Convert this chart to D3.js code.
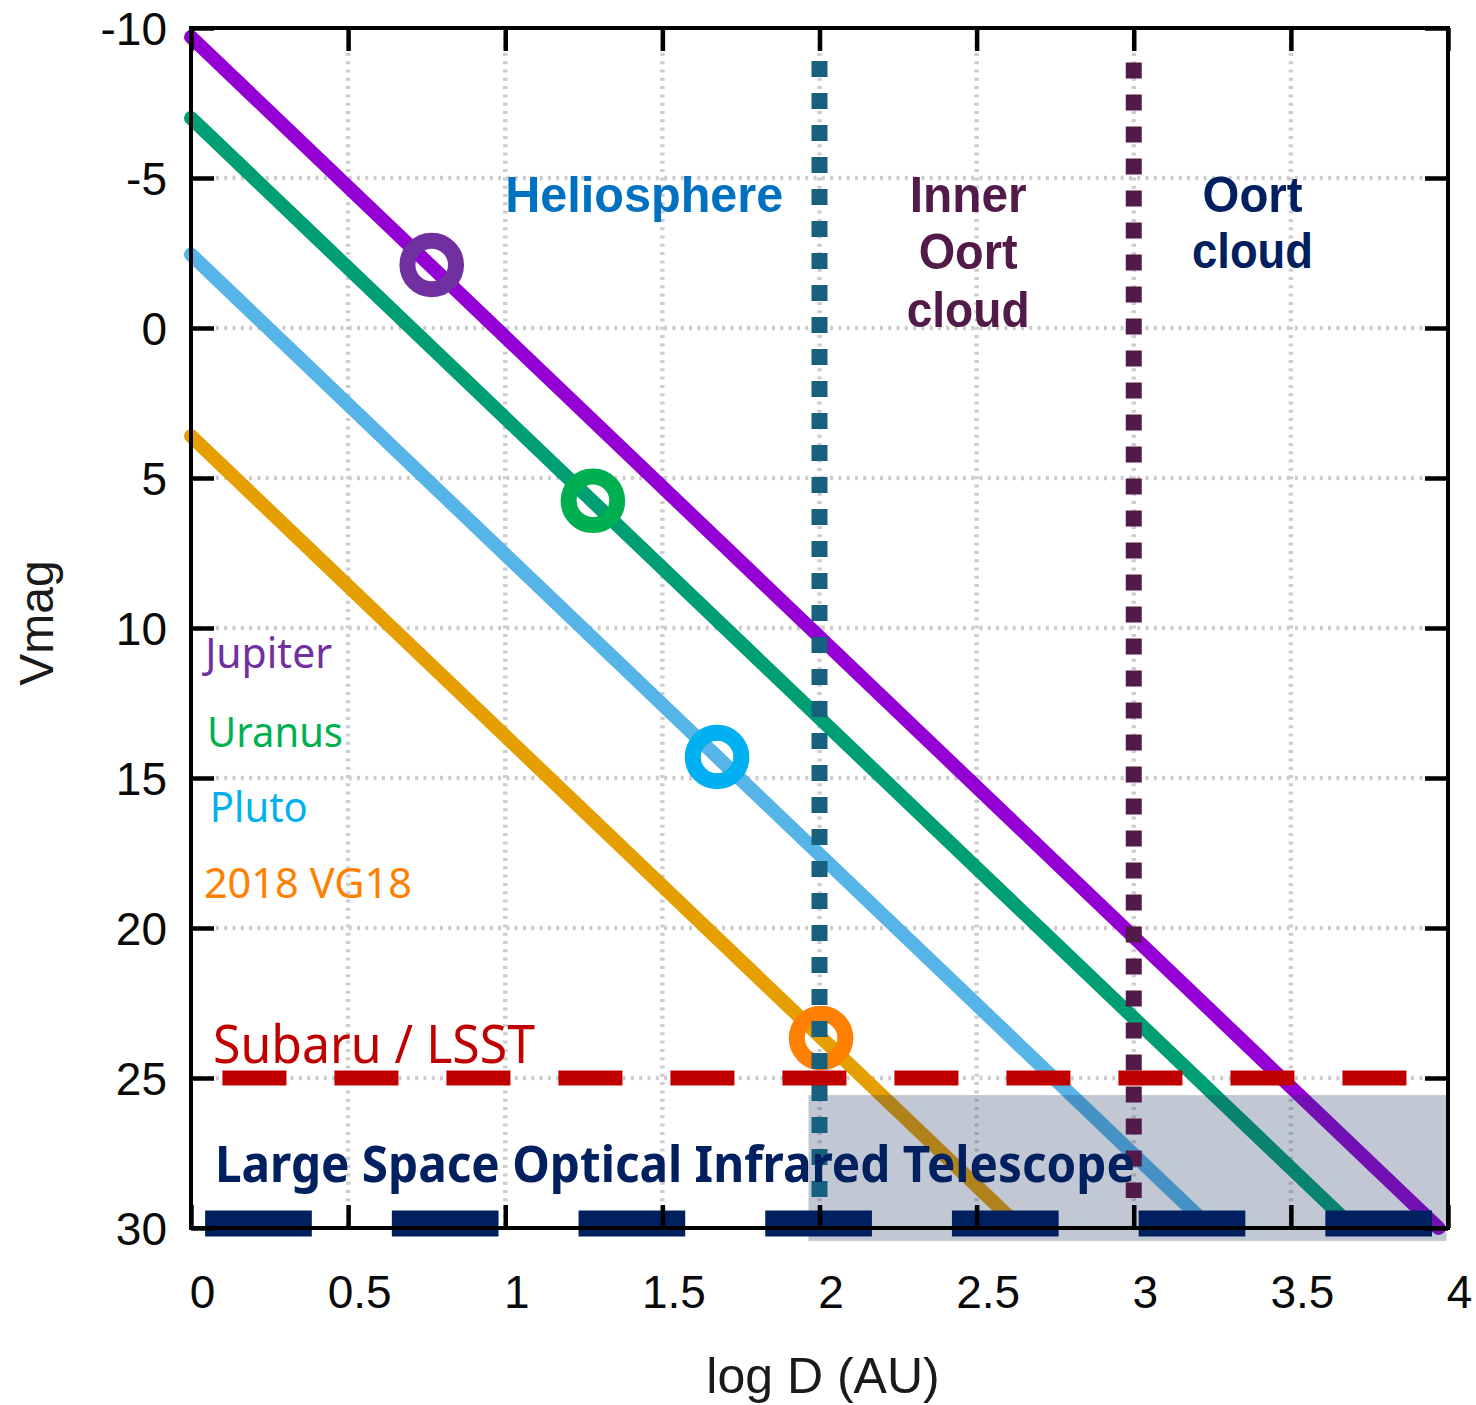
<!DOCTYPE html>
<html><head><meta charset="utf-8">
<script src="https://cdn.jsdelivr.net/npm/d3@7/dist/d3.min.js"></script>
<style>body{margin:0;background:#fff}svg{display:block}</style>
</head><body><svg id="chart" width="1476" height="1405"></svg>
<script>
// ---------- data ----------
const xTickValues = [0, 0.5, 1, 1.5, 2, 2.5, 3, 3.5, 4];
const yTickValues = [-10, -5, 0, 5, 10, 15, 20, 25, 30];
const objectNames = ["Jupiter", "Uranus", "Pluto", "2018 VG18"];
const lineStartLogD = [0, 0, 0, 0];
const lineStartVmag = [-9.7, -7.0, -2.45, 3.6];
const lineEndLogD = [3.97, 3.70, 3.245, 2.64];
const lineEndVmag = [30, 30, 30, 30];
const markerLogD = [0.766, 1.279, 1.674, 2.005];
const markerVmag = [-2.1, 5.76, 14.3, 23.67];
const regionNames = ["Heliosphere", "Inner Oort cloud", "Oort cloud"];
const boundaryLogD = [2, 3];
const boundaryTopVmag = [-8.9, -8.85];
const boundaryBottomVmag = [28.97, 29.0];
const limitNames = ["Subaru / LSST", "Large Space Optical Infrared Telescope"];
const limitVmag = [25, 29.85];
const limitStartLogD = [0.1, 0.045];
const limitEndLogD = [4.0, 3.96];
const shadedLogD = [1.965, 3.995];
const shadedVmag = [25.57, 30.43];

// ---------- styles ----------
const lineColors = ["#9400D3", "#009E73", "#56B4E9", "#E69F00"];
const markerColors = ["#7030A0", "#00B050", "#00B0F0", "#FF8000"];
const labelColors = ["#7030A0", "#00B050", "#00B0F0", "#FF7F00"];
const boundaryColors = ["#17607F", "#521A48"];
const limitColors = ["#C00000", "#002060"];
const limitWidths = [15, 26];
const limitDash = ["64,48", "106.7,80"];

const svg = d3.select("#chart");
const x = d3.scaleLinear().domain([0, 4]).range([191, 1448]);
const y = d3.scaleLinear().domain([-10, 30]).range([28, 1228]);
const [X0, X1] = x.range(), [Y0, Y1] = y.range();

// grid
const grid = svg.append("g").attr("stroke", "#cdcdcd").attr("stroke-width", 4.5).attr("stroke-dasharray", "3,5.3");
grid.selectAll(".gx").data(xTickValues.slice(1, -1)).join("line")
  .attr("x1", d => x(d)).attr("x2", d => x(d)).attr("y1", Y0).attr("y2", Y1);
grid.selectAll(".gy").data(yTickValues.slice(1, -1)).join("line")
  .attr("x1", X0).attr("x2", X1).attr("y1", d => y(d)).attr("y2", d => y(d));

// object lines
const lineGen = d3.line().x(d => x(d[0])).y(d => y(d[1]));
svg.append("g").selectAll("path").data(objectNames).join("path")
  .attr("d", (d, i) => lineGen([[lineStartLogD[i], lineStartVmag[i]], [lineEndLogD[i], lineEndVmag[i]]]))
  .attr("fill", "none").attr("stroke", (d, i) => lineColors[i])
  .attr("stroke-width", 14).attr("stroke-linecap", "round");

// shaded region
svg.append("rect")
  .attr("x", x(shadedLogD[0])).attr("y", y(shadedVmag[0]))
  .attr("width", x(shadedLogD[1]) - x(shadedLogD[0]))
  .attr("height", y(shadedVmag[1]) - y(shadedVmag[0]))
  .attr("fill", "#1F3864").attr("fill-opacity", 0.28);

// markers
svg.append("g").selectAll("circle").data(objectNames).join("circle")
  .attr("cx", (d, i) => x(markerLogD[i])).attr("cy", (d, i) => y(markerVmag[i]))
  .attr("r", 24.3).attr("fill", "none")
  .attr("stroke", (d, i) => markerColors[i]).attr("stroke-width", 16);

// region boundaries
svg.append("g").selectAll("line").data(boundaryLogD).join("line")
  .attr("x1", d => x(d)).attr("x2", d => x(d))
  .attr("y1", (d, i) => y(boundaryTopVmag[i])).attr("y2", (d, i) => y(boundaryBottomVmag[i]))
  .attr("stroke", (d, i) => boundaryColors[i]).attr("stroke-width", 16)
  .attr("stroke-dasharray", "16,16");

// detection limits
svg.append("g").selectAll("line").data(limitVmag).join("line")
  .attr("x1", (d, i) => x(limitStartLogD[i])).attr("x2", (d, i) => x(limitEndLogD[i]))
  .attr("y1", d => y(d)).attr("y2", d => y(d))
  .attr("stroke", (d, i) => limitColors[i]).attr("stroke-width", (d, i) => limitWidths[i])
  .attr("stroke-dasharray", (d, i) => limitDash[i]);

// axes (inward ticks on all sides)
const tickLen = 23;
const fmt = d => String(d);
const styleAxis = g => {
  g.select(".domain").remove();
  g.selectAll(".tick line").attr("stroke", "#000").attr("stroke-width", 4.5);
  g.selectAll("text").attr("font-family", "Liberation Sans, Arial, sans-serif")
    .attr("font-size", 46).attr("fill", "#0a0a0a");
};
svg.append("g").attr("transform", `translate(0,${Y1})`)
  .call(d3.axisBottom(x).tickValues(xTickValues).tickSize(-tickLen).tickPadding(0).tickFormat(fmt))
  .call(styleAxis)
  .call(g => g.selectAll("text").attr("dy", null).attr("y", 80).attr("dx", 11));
svg.append("g").attr("transform", `translate(0,${Y0})`)
  .call(d3.axisTop(x).tickValues(xTickValues).tickSize(-tickLen).tickFormat(""))
  .call(styleAxis);
svg.append("g").attr("transform", `translate(${X0},0)`)
  .call(d3.axisLeft(y).tickValues(yTickValues).tickSize(-tickLen).tickPadding(24).tickFormat(fmt))
  .call(styleAxis)
  .call(g => g.selectAll("text").attr("dy", "0.36em"));
svg.append("g").attr("transform", `translate(${X1},0)`)
  .call(d3.axisRight(y).tickValues(yTickValues).tickSize(-tickLen).tickFormat(""))
  .call(styleAxis);

// frame
svg.append("rect").attr("x", X0).attr("y", Y0).attr("width", X1 - X0).attr("height", Y1 - Y0)
  .attr("fill", "none").attr("stroke", "#000").attr("stroke-width", 4);

// axis titles
svg.append("text").attr("x", 823).attr("y", 1393).attr("text-anchor", "middle")
  .attr("font-family", "Liberation Sans, Arial, sans-serif").attr("font-size", 50).attr("fill", "#1a1a1a")
  .text("log D (AU)");
svg.append("text").attr("transform", "translate(53,623) rotate(-90)").attr("text-anchor", "middle")
  .attr("font-family", "Liberation Sans, Arial, sans-serif").attr("font-size", 48).attr("fill", "#1a1a1a")
  .text("Vmag");

// annotation helper
function label(txt, px, py, opt) {
  const t = svg.append("text").attr("x", px).attr("y", py)
    .attr("font-family", opt.family).attr("font-size", opt.size)
    .attr("font-weight", opt.weight || "normal").attr("fill", opt.color)
    .attr("text-anchor", opt.anchor || "start").text(txt);
  if (opt.len) t.attr("textLength", opt.len).attr("lengthAdjust", "spacingAndGlyphs");
  return t;
}
const boldFont = "Liberation Sans, Arial, sans-serif";
const jpFont = "Noto Sans, sans-serif";

// region labels
label(regionNames[0], x(1.0), y(-3.87), {family: boldFont, size: 50, weight: "bold", color: "#0070C0", len: 278});
const inner = regionNames[1].split(" ");
const innerLens = [117, 99, 123];
const innerV = [-3.87, -1.97, -0.03];
inner.forEach((s, i) => label(s, x(2.473), y(innerV[i]),
  {family: boldFont, size: 50, weight: "bold", color: "#521A48", anchor: "middle", len: innerLens[i]}));
const outer = regionNames[2].split(" ");
const outerLens = [100, 121];
const outerV = [-3.87, -2.0];
outer.forEach((s, i) => label(s, x(3.378), y(outerV[i]),
  {family: boldFont, size: 50, weight: "bold", color: "#002060", anchor: "middle", len: outerLens[i]}));

// object legend labels
const legendV = [11.33, 13.97, 16.47, 19.0];
const legendLogD = [0.045, 0.051, 0.06, 0.041];
const legendLens = [127, 136, 98, 208];
objectNames.forEach((s, i) => label(s, x(legendLogD[i]), y(legendV[i]),
  {family: jpFont, size: 42, color: labelColors[i], len: legendLens[i]}));

// limit labels
label(limitNames[0], x(0.07), y(24.5), {family: jpFont, size: 52, color: "#C00000", len: 322});
label(limitNames[1], x(0.076), y(28.47), {family: "Noto Sans, sans-serif", size: 50, weight: "bold", color: "#002060", len: 920});
</script></body></html>
